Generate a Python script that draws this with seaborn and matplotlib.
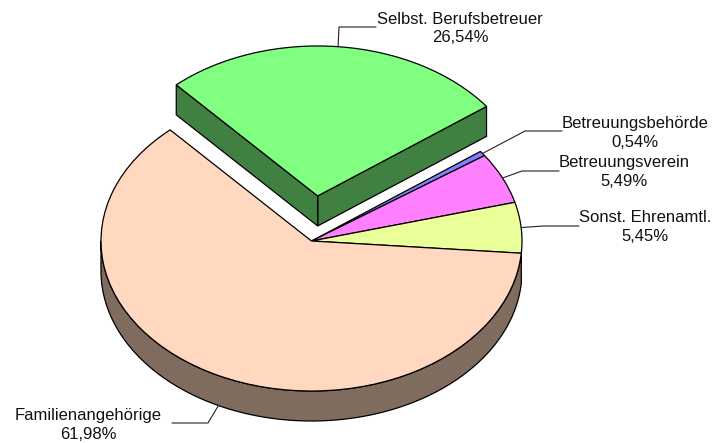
import numpy as np
import matplotlib
matplotlib.use("Agg")
import matplotlib.pyplot as plt
import seaborn as sns

categories = ["Selbst. Berufsbetreuer", "Betreuungsbehörde", "Betreuungsverein",
              "Sonst. Ehrenamtl.", "Familienangehörige"]
values = [26.54, 0.54, 5.49, 5.45, 61.98]
value_labels = ["26,54%", "0,54%", "5,49%", "5,45%", "61,98%"]
top_colors = ["#80FF80", "#8080FF", "#FF80FF", "#EAFF99", "#FFD8BF"]
side_colors = ["#408040", "#404080", "#804080", "#758050", "#806C5F"]

sns.set_theme(style="white")
plt.rcParams["font.family"] = ["Liberation Sans", "DejaVu Sans"]

W, H = 716, 443
RX, RY, DEPTH = 210.5, 150, 30
SQ = RY / RX


def yd(py):
    return (H - py) / SQ


fig, ax = plt.subplots(figsize=(W / 100, H / 100), dpi=100)
fig.subplots_adjust(0, 0, 1, 1)
edge = dict(edgecolor="black", linewidth=0.9)

wedges, _ = ax.pie(values, explode=[63.5, 0, 0, 0, 0], colors=top_colors,
                   center=(311.5, yd(241)), radius=RX, startangle=132.2,
                   counterclock=False, wedgeprops=edge)
ax.set_aspect("auto")
ax.set_xlim(0, W)
ax.set_ylim(0, H / SQ)
ax.axis("off")
depth_d = DEPTH / SQ

# Outer wall of the big slice (visible on the front half only)
fam = wedges[4]
cx, cy = fam.center
ang = np.radians(np.linspace(-180, fam.theta2, 200))
ox, oy = cx + RX * np.cos(ang), cy + RX * np.sin(ang)
ax.fill(np.r_[ox, ox[::-1]], np.r_[oy, oy[::-1] - depth_d],
        facecolor=side_colors[4], zorder=0.5, **edge)

# Cut faces of the exploded slice
sel = wedges[0]
sx, sy = sel.center
for th in (sel.theta1, sel.theta2):
    a = np.radians(th)
    px, py = sx + RX * np.cos(a), sy + RX * np.sin(a)
    ax.fill([sx, px, px, sx], [sy, py, py - depth_d, sy - depth_d],
            facecolor=side_colors[0], zorder=0.5, **edge)

# Labels with two-part leader lines
label_pos = [(460, 28.5), (635, 133), (624, 172), (645, 227), (88, 425)]
elbows = [(339, 27), (525, 131), (522, 171), (543, 226), (208, 423)]
ends = [(376, 27), (562, 131), (559, 171), (579, 226), (172, 423)]
for i, w in enumerate(wedges):
    mid = np.radians((w.theta1 + w.theta2) / 2)
    wx, wy = w.center
    x0, y0 = wx + RX * np.cos(mid), wy + RX * np.sin(mid)
    if i == 4:
        y0 -= depth_d
    ax.plot([x0, elbows[i][0], ends[i][0]], [y0, yd(elbows[i][1]), yd(ends[i][1])],
            color="#222222", lw=0.8, zorder=3)
    ax.text(label_pos[i][0], yd(label_pos[i][1]), f"{categories[i]}\n{value_labels[i]}",
            ha="center", va="center", ma="center", fontsize=12, color="#111111",
            linespacing=1.27)

fig.savefig("out.png", dpi=100)
